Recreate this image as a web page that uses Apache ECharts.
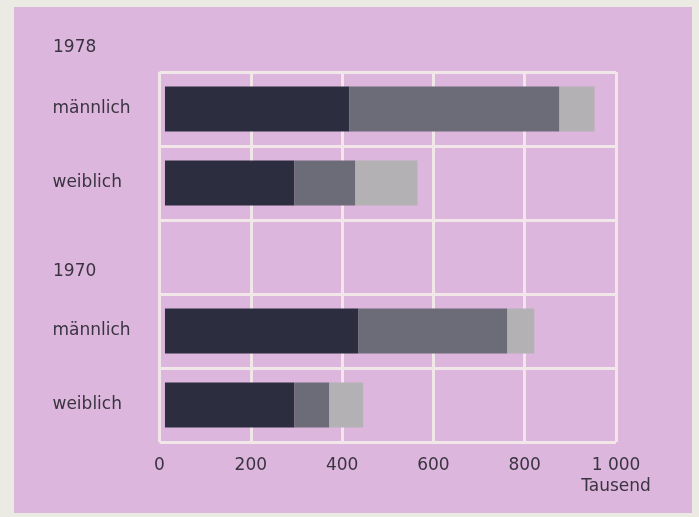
<!DOCTYPE html>
<html>
<head>
<meta charset="utf-8">
<script src="https://cdn.jsdelivr.net/npm/echarts@6/dist/echarts.min.js"></script>
<style>
  html, body { margin: 0; padding: 0; background: #ecebe3; }
  #chart { width: 699px; height: 517px; }
</style>
</head>
<body>
<div id="chart"></div>
<script>
var chart = echarts.init(document.getElementById('chart'));

// rows from top to bottom; the empty row holds the "1970" heading
var categories = ['männlich', 'weiblich', '', 'männlich', 'weiblich'];
var years = ['1978', '1970'];
// thousands, three stacked parts per bar
var part1 = [404, 283, null, 423, 283];
var part2 = [460, 134, null, 327, 77];
var part3 = [77, 136, null, 59, 74];
var tickLabels = ['0', '200', '400', '600', '800', '1 000'];
var unit = 'Tausend';

var textColor = '#3a3441';
var lineColor = '#f1e6e8';
var font = 'DejaVu Sans';

function bar(name, data, color) {
  return {
    name: name,
    type: 'bar',
    stack: 'total',
    xAxisIndex: 1,
    barWidth: 45,
    itemStyle: { color: color },
    data: data
  };
}

var option = {
  backgroundColor: '#ecebe3',
  animation: false,
  grid: { left: 159.5, right: 83, top: 72, bottom: 75 },
  graphic: [
    { type: 'rect', z: -10, shape: { x: 14, y: 7, width: 678, height: 506 }, style: { fill: '#dcb6dc' } },
    { type: 'text', style: { text: years[0], x: 53, y: 48, fill: textColor, font: '17px "' + font + '"', verticalAlign: 'middle' } },
    { type: 'text', style: { text: years[1], x: 53, y: 272, fill: textColor, font: '17px "' + font + '"', verticalAlign: 'middle' } }
  ],
  xAxis: [
    {
      type: 'value',
      min: 0,
      max: 1000,
      interval: 200,
      axisLine: { show: false },
      axisTick: { show: false },
      splitLine: { show: true, lineStyle: { color: lineColor, width: 3 } },
      axisLabel: {
        color: textColor,
        fontFamily: font,
        fontSize: 17,
        lineHeight: 21,
        margin: 13,
        formatter: function (v) {
          var s = tickLabels[Math.round(v / 200)];
          return v === 1000 ? s + '\n' + unit : s;
        }
      }
    },
    {
      // bars start a little right of the frame
      type: 'value',
      min: -12,
      max: 988,
      show: false
    }
  ],
  yAxis: {
    type: 'category',
    inverse: true,
    data: categories,
    axisLine: { show: false },
    axisTick: { show: false },
    splitLine: { show: true, lineStyle: { color: lineColor, width: 3 } },
    axisLabel: {
      align: 'left',
      margin: 107,
      color: textColor,
      fontFamily: font,
      fontSize: 17
    }
  },
  series: [
    bar('a', part1, '#2c2d3e'),
    bar('b', part2, '#6c6b78'),
    bar('c', part3, '#b4b1b4')
  ]
};
chart.setOption(option);
</script>
</body>
</html>
